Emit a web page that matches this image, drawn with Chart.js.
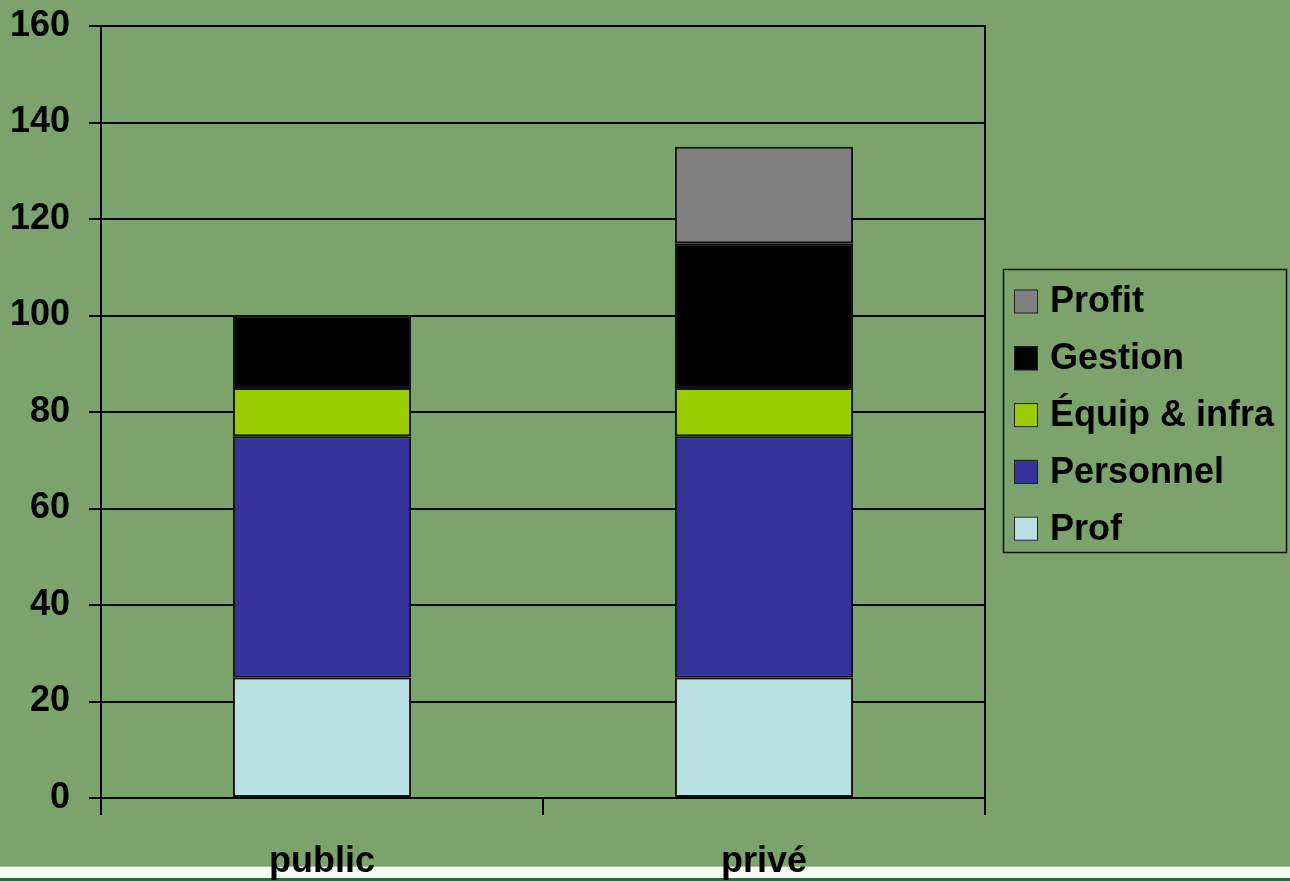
<!DOCTYPE html>
<html>
<head>
<meta charset="utf-8">
<title>public / privé</title>
<script src="https://cdn.jsdelivr.net/npm/chart.js@4/dist/chart.umd.min.js"></script>
<style>
  html, body { margin: 0; padding: 0; background: #7ba36b; }
  canvas { display: block; }
</style>
</head>
<body>
<canvas id="myChart" width="1290" height="881"></canvas>
<script>
// categories et series
var categories = ['public', 'privé'];
var prof = [25, 25];
var personnel = [50, 50];
var equipInfra = [10, 10];
var gestion = [15, 30];
var profit = [0, 20];
var yTicks = [0, 20, 40, 60, 80, 100, 120, 140, 160];

var fontFam = '"Liberation Sans", Arial, sans-serif';

// fond vert + bande blanche en bas
var fondPlugin = {
  id: 'fond',
  beforeDraw: function (chart) {
    var c = chart.ctx;
    c.save();
    c.fillStyle = '#7ba36b';
    c.fillRect(0, 0, chart.width, chart.height);
    c.fillStyle = '#a9c0a2';
    c.fillRect(0, 866, chart.width, 1);
    c.fillStyle = '#f6fcf4';
    c.fillRect(0, 867, chart.width, 11);
    c.fillStyle = '#2d6a43';
    c.fillRect(0, 878, chart.width, 3);
    c.restore();
  }
};

// bord droit du graphique + légende encadrée
var legendePlugin = {
  id: 'legende',
  afterDraw: function (chart) {
    var c = chart.ctx;
    var a = chart.chartArea;
    c.save();
    c.strokeStyle = '#000';
    c.lineWidth = 2;
    c.beginPath();
    c.moveTo(a.right, a.top - 1);
    c.lineTo(a.right, a.bottom + 17);
    c.stroke();

    c.lineWidth = 1.5;
    c.strokeStyle = '#111';
    c.strokeRect(1003.5, 269.5, 283, 283);

    var ds = chart.data.datasets.slice().reverse();
    c.font = 'bold 36px ' + fontFam;
    c.textBaseline = 'middle';
    c.textAlign = 'left';
    ds.forEach(function (d, i) {
      var cy = 301.5 + i * 56.8;
      c.fillStyle = d.backgroundColor;
      c.fillRect(1014, cy - 12, 24, 24);
      c.strokeStyle = '#222';
      c.lineWidth = 1;
      c.strokeRect(1014.5, cy - 11.5, 23, 23);
      c.fillStyle = '#000';
      c.fillText(d.label, 1050, cy + 1);
    });
    c.restore();
  }
};

var ctx = document.getElementById('myChart').getContext('2d');
var chart = new Chart(ctx, {
  type: 'bar',
  data: {
    labels: categories,
    datasets: [
      { label: 'Prof', data: prof, backgroundColor: '#bbe0e3' },
      { label: 'Personnel', data: personnel, backgroundColor: '#333399' },
      { label: 'Équip & infra', data: equipInfra, backgroundColor: '#99cc00' },
      { label: 'Gestion', data: gestion, backgroundColor: '#000000' },
      { label: 'Profit', data: profit, backgroundColor: '#808080' }
    ]
  },
  options: {
    responsive: false,
    animation: false,
    layout: { padding: { left: 0, right: 305, top: 26, bottom: 0 } },
    datasets: {
      bar: {
        borderColor: '#111',
        borderWidth: 2,
        borderSkipped: false,
        barPercentage: 0.403,
        categoryPercentage: 1
      }
    },
    plugins: {
      legend: { display: false },
      tooltip: { enabled: false },
      title: { display: false }
    },
    scales: {
      x: {
        stacked: true,
        afterFit: function (s) {
          s.height = 83;
          s.paddingLeft = 0;
          s.paddingRight = 0;
        },
        grid: {
          offset: true,
          drawOnChartArea: false,
          tickLength: 17,
          tickColor: '#000',
          lineWidth: 2
        },
        border: { color: '#000', width: 2 },
        ticks: {
          color: '#000',
          padding: 25,
          font: { family: fontFam, size: 36, weight: 'bold' }
        }
      },
      y: {
        stacked: true,
        min: 0,
        max: 160,
        afterFit: function (s) {
          s.width = 101;
          s.paddingTop = 0;
          s.paddingBottom = 0;
        },
        afterBuildTicks: function (s) {
          s.ticks = yTicks.map(function (v) { return { value: v }; });
        },
        grid: {
          color: '#000',
          lineWidth: 2,
          tickLength: 12
        },
        border: { color: '#000', width: 2 },
        ticks: {
          color: '#000',
          padding: 19,
          font: { family: fontFam, size: 36, weight: 'bold' }
        }
      }
    }
  },
  plugins: [fondPlugin, legendePlugin]
});
</script>
</body>
</html>
